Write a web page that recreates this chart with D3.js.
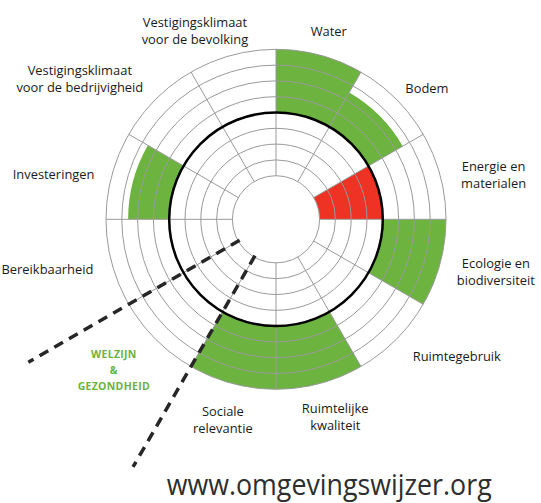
<!DOCTYPE html>
<meta charset="utf-8">
<style>
  body { margin: 0; background: #fff; }
  text { font-family: "Open Sans", Lato, sans-serif; }
</style>
<svg width="541" height="503"></svg>
<script src="https://cdn.jsdelivr.net/npm/d3@7"></script>
<script>

// data, clockwise from 12 o'clock
var categories = [
  "Water", "Bodem", "Energie en\nmaterialen", "Ecologie en\nbiodiversiteit",
  "Ruimtegebruik", "Ruimtelijke\nkwaliteit", "Sociale\nrelevantie",
  "WELZIJN\n&\nGEZONDHEID", "Bereikbaarheid", "Investeringen",
  "Vestigingsklimaat\nvoor de bedrijvigheid", "Vestigingsklimaat\nvoor de bevolking"
];
var values = [4, 2.5, -4, 4, 0, 4, 4, 0, 0, 2.6, 0, 0];
var ticks = [-4, -3, -2, -1, 0, 1, 2, 3, 4];
var site = "www.omgevingswijzer.org";

// layout
var svg = d3.select("svg"),
    cx = 276, cy = 219.3,
    green = "#6cb33f", red = "#ee3224";
// label place: angle (deg) and distance from centre
var labelAt = [
  [15.7, 195], [49, 200], [78.5, 222], [103.4, 226], [127.2, 227], [163.3, 206],
  [194.8, 208], [227.2, 221], [257.6, 234], [281.5, 227], [305.5, 241], [336.7, 205]
];

var r = d3.scaleLinear().domain([-4, 4]).range([43.6, 170]);
var step = 2 * Math.PI / categories.length;

var g = svg.append("g").attr("transform", "translate(" + cx + "," + cy + ")");

// sectors
var arc = d3.arc();
g.append("g").selectAll("path")
  .data(values)
  .enter().append("path")
    .attr("fill", function(d) { return d < 0 ? red : green; })
    .attr("d", function(d, i) {
      return arc({
        innerRadius: r(Math.min(0, d)),
        outerRadius: r(Math.max(0, d)),
        startAngle: i * step,
        endAngle: (i + 1) * step
      });
    });

// grid rings
g.append("g").selectAll("circle")
  .data(ticks.filter(function(t) { return t != 0; }))
  .enter().append("circle")
    .attr("r", function(d) { return r(d); })
    .attr("fill", "none")
    .attr("stroke", "#9a9a9a")
    .attr("stroke-width", 1);

// spokes
g.append("g").selectAll("line")
  .data(categories)
  .enter().append("line")
    .attr("x1", function(d, i) { return r(-4) * Math.sin(i * step); })
    .attr("y1", function(d, i) { return -r(-4) * Math.cos(i * step); })
    .attr("x2", function(d, i) { return r(4) * Math.sin(i * step); })
    .attr("y2", function(d, i) { return -r(4) * Math.cos(i * step); })
    .attr("stroke", "#9a9a9a")
    .attr("stroke-width", 1);

// zero line
g.append("circle")
  .attr("r", r(0))
  .attr("fill", "none")
  .attr("stroke", "#000")
  .attr("stroke-width", 2.5);

// dashed borders of welzijn & gezondheid
var wi = categories.indexOf("WELZIJN\n&\nGEZONDHEID");
g.append("g").selectAll("line")
  .data([wi, wi + 1])
  .enter().append("line")
    .attr("x1", function(d) { return 42 * Math.sin(d * step); })
    .attr("y1", function(d) { return -42 * Math.cos(d * step); })
    .attr("x2", function(d) { return 286 * Math.sin(d * step); })
    .attr("y2", function(d) { return -286 * Math.cos(d * step); })
    .attr("stroke", "#262626")
    .attr("stroke-width", 3.5)
    .attr("stroke-dasharray", "10,7");

// labels
var lab = g.append("g").selectAll("text")
  .data(categories)
  .enter().append("text")
    .attr("text-anchor", "middle")
    .attr("fill", function(d, i) { return i == wi ? green : "#1a1a1a"; })
    .attr("font-size", function(d, i) { return i == wi ? 10.5 : 12.9; })
    .attr("font-weight", function(d, i) { return i == wi ? "bold" : "normal"; })
    .attr("letter-spacing", function(d, i) { return i == wi ? 0.3 : 0; })
    .each(function(d, i) {
      var lines = d.split("\n"),
          lh = i == wi ? 15.8 : 17,
          a = labelAt[i][0] * Math.PI / 180,
          x = labelAt[i][1] * Math.sin(a),
          y = -labelAt[i][1] * Math.cos(a) - (lines.length - 1) * lh / 2 + 4.5;
      d3.select(this).selectAll("tspan")
        .data(lines)
        .enter().append("tspan")
          .attr("x", x)
          .attr("y", function(l, k) { return y + k * lh; })
          .text(function(l) { return l; });
    });

// site
svg.append("text")
  .attr("x", 166.7)
  .attr("y", 495)
  .attr("font-family", "Lato, sans-serif")
  .attr("font-size", 29)
  .attr("fill", "#2e2e2e")
  .attr("textLength", 325)
  .attr("lengthAdjust", "spacingAndGlyphs")
  .text(site);

</script>
